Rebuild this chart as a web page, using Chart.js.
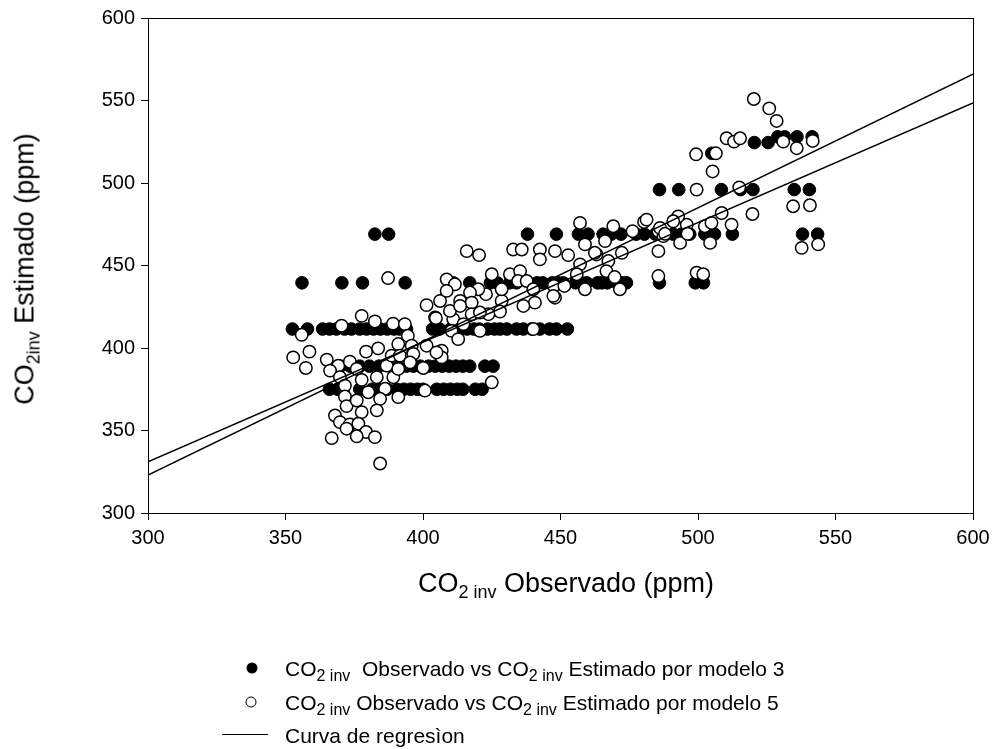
<!DOCTYPE html>
<html>
<head>
<meta charset="utf-8">
<script src="https://cdn.jsdelivr.net/npm/chart.js@4.4.1/dist/chart.umd.min.js"></script>
<style>
  body { margin: 0; background: #fff; }
  #wrap { position: relative; width: 996px; height: 749px; font-family: Arial, "Liberation Sans", sans-serif; color: #000; }
  #grafico { position: absolute; left: 0; top: 0; }
  .tit { position: absolute; font-size: 27px; white-space: nowrap; line-height: 1; }
  .tit sub { font-size: 18px; vertical-align: -6px; line-height: 0; }
  #titX { left: 566px; top: 570px; transform: translateX(-50%); }
  #titY { left: 25px; top: 269px; transform: translate(-50%, -50%) rotate(-90deg); }
  .ley { position: absolute; left: 285px; font-size: 21px; white-space: nowrap; line-height: 1; transform: translateY(-50%); }
  .ley sub { font-size: 16px; vertical-align: -5px; line-height: 0; }
  .marca { position: absolute; width: 11px; height: 11px; border-radius: 50%; box-sizing: border-box; transform: translate(-50%, -50%); }
  .linea { position: absolute; left: 222px; width: 46px; height: 0; border-top: 1.5px solid #000; }
</style>
</head>
<body>
<div id="wrap">
  <canvas id="grafico" width="996" height="749"></canvas>
  <div class="tit" id="titX">CO<sub>2 inv</sub> Observado (ppm)</div>
  <div class="tit" id="titY">CO<sub>2inv</sub> Estimado (ppm)</div>

  <div class="marca" style="left:252px;top:668px;background:#000;"></div>
  <div class="ley" style="top:668px;">CO<sub>2 inv</sub>&nbsp; Observado vs CO<sub>2 inv</sub> Estimado por modelo 3</div>
  <div class="marca" style="left:251px;top:702px;background:#fff;border:1.5px solid #000;"></div>
  <div class="ley" style="top:702px;">CO<sub>2 inv</sub> Observado vs CO<sub>2 inv</sub> Estimado por modelo 5</div>
  <div class="linea" style="top:734px;"></div>
  <div class="ley" style="top:735px;">Curva de regresìon</div>
</div>

<script>
// Modelo 3: valores observados (x) y estimados (y), por niveles
const obs3 = [
  366, 369, 371, 377, 381.5, 384, 387, 390.5, 393, 395.5, 398, 400, 405, 407.5, 410, 412.5, 414.5, 419, 421.5,
  370, 373.5, 377, 380.5, 384, 388, 391.5, 394, 396.5, 399, 402, 404.5, 407, 409.5, 412, 414.5, 417, 422.5, 425.5,
  352.5, 358, 363.5, 366, 368.5, 371.5, 374, 377, 379.5, 382, 384.5, 387, 389.5, 391.5, 394, 403.5, 406, 410,
  413.5, 416, 418.5, 420.5, 423.5, 426, 428, 430.5, 434, 436.5, 439.5, 442.5, 446, 448.5, 452.5,
  356, 370.5, 378, 393.5, 411, 417, 424.5, 427, 431.5, 434, 441.5, 443.5, 447, 449, 451, 455.5, 457.5, 459.5,
  463.5, 465, 467, 470.5, 472.5, 474, 486, 499, 502,
  382.5, 387.5, 438, 448.5, 456.5, 460, 465.5, 468.5, 472, 477.5, 480.5, 484.5, 491, 494, 497, 502.5, 506, 512.5, 538, 543.5,
  486, 493, 508.5, 515.5, 520, 535, 540.5,
  505,
  520.5, 525.5,
  529, 531.5, 536, 541.5
];
const est3 = [
  375, 375, 375, 375, 375, 375, 375, 375, 375, 375, 375, 375, 375, 375, 375, 375, 375, 375, 375,
  389, 389, 389, 389, 389, 389, 389, 389, 389, 389, 389, 389, 389, 389, 389, 389, 389, 389, 389,
  411.5, 411.5, 411.5, 411.5, 411.5, 411.5, 411.5, 411.5, 411.5, 411.5, 411.5, 411.5, 411.5, 411.5, 411.5, 411.5, 411.5, 411.5,
  411.5, 411.5, 411.5, 411.5, 411.5, 411.5, 411.5, 411.5, 411.5, 411.5, 411.5, 411.5, 411.5, 411.5, 411.5,
  439.5, 439.5, 439.5, 439.5, 439.5, 439.5, 439.5, 439.5, 439.5, 439.5, 439.5, 439.5, 439.5, 439.5, 439.5, 439.5, 439.5, 439.5,
  439.5, 439.5, 439.5, 439.5, 439.5, 439.5, 439.5, 439.5, 439.5,
  469, 469, 469, 469, 469, 469, 469, 469, 469, 469, 469, 469, 469, 469, 469, 469, 469, 469, 469, 469,
  496, 496, 496, 496, 496, 496, 496,
  518,
  524.5, 524.5,
  528, 528, 528, 528
];

// Modelo 5: valores observados (x) y estimados (y)
const obs5 = [
  377.7, 382.5, 389.1, 393.4, 370.4, 355.9, 394.5, 352.8, 358.7, 357.4, 365.0, 369.2, 373.4, 379.3, 383.7, 366.2,
  369.8, 375.9, 377.7, 383.2, 386.8, 388.6, 391.0, 391.6, 395.9, 389.2, 391.0, 371.6, 380.1, 386.2, 371.6, 372.2,
  375.9, 384.4, 391.0, 377.7, 383.2, 368.0, 369.8, 373.4, 376.5, 372.2, 379.3, 375.9, 382.5, 366.8, 384.4, 401.3,
  406.2, 404.4, 411.0, 410.4, 401.3, 406.8, 406.8, 400.1, 400.7, 387.3, 415.9, 420.4, 432.8, 435.9, 442.5, 442.5,
  448.0, 452.8, 458.9, 463.1, 457.1, 455.9, 408.6, 411.6, 425.0, 431.6, 435.3, 434.6, 437.7, 447.6, 451.4, 458.9,
  440.1, 448.0, 440.7, 436.5, 428.6, 428.0, 422.9, 420.1, 417.1, 413.5, 408.6, 409.8, 417.7, 417.7, 423.8, 404.7,
  414.7, 420.7, 412.8, 440.1, 425.0, 457.1, 462.5, 472.3, 467.4, 466.2, 469.2, 476.2, 480.4, 481.3, 485.6, 466.7,
  469.7, 471.6, 428.6, 485.6, 485.6, 495.9, 502.5, 487.4, 493.5, 504.4, 499.5, 501.9, 447.4, 520.3, 525.9, 528.6,
  510.4, 513.1, 515.3, 531.0, 535.9, 541.7, 499.3, 506.5, 505.3, 499.5, 515.0, 534.6, 540.7, 519.8, 508.6, 492.8,
  491.0, 486.2, 488.0, 512.2, 504.9, 496.2, 537.7, 543.7, 420.7, 395.9, 404.9, 413.5, 396.5, 395.3
];
const est5 = [
  419.5, 416.1, 414.8, 414.5, 413.5, 408.0, 407.4, 394.3, 397.8, 387.9, 392.9, 389.3, 391.7, 397.8, 399.8, 386.3,
  382.3, 387.3, 380.7, 382.3, 389.3, 395.4, 402.4, 395.4, 395.4, 382.3, 387.3, 377.2, 373.2, 375.3, 370.6, 364.8,
  368.2, 369.2, 370.2, 361.1, 362.2, 359.1, 355.1, 353.7, 354.1, 351.1, 349.1, 346.5, 346.0, 345.4, 330.0, 426.0,
  428.5, 418.5, 417.5, 410.4, 401.4, 398.4, 394.3, 387.9, 374.2, 442.4, 458.7, 456.3, 459.7, 459.7, 459.7, 453.7,
  458.7, 456.3, 462.8, 456.7, 450.7, 444.7, 441.6, 438.6, 444.7, 444.7, 446.6, 440.6, 440.6, 437.6, 437.6, 435.6,
  435.6, 430.5, 427.5, 425.5, 428.5, 422.1, 432.6, 435.6, 433.6, 428.5, 434.6, 422.5, 427.5, 420.5, 420.5, 418.1,
  414.5, 410.4, 405.4, 411.5, 379.2, 475.8, 457.7, 457.7, 452.7, 464.8, 473.8, 470.8, 476.4, 477.8, 470.8, 446.6,
  443.0, 435.6, 435.6, 458.7, 443.6, 474.8, 473.8, 467.8, 463.7, 463.7, 445.6, 444.7, 431.6, 550.9, 545.2, 537.6,
  527.1, 525.1, 527.1, 525.1, 521.1, 525.5, 517.4, 518.0, 507.0, 496.0, 497.3, 485.9, 486.5, 481.2, 481.8, 479.8,
  476.8, 472.8, 469.2, 474.8, 475.8, 469.2, 460.7, 462.8, 421.5, 401.4, 397.3, 425.5, 396.4, 391.3
];

// Curvas de regresion (extremos en x = 300 y x = 600)
const regX = [300, 600];
const regY3 = [323, 566];
const regY5 = [331, 548.5];

const ejeMin = 300, ejeMax = 600, paso = 50;

const puntos = (xs, ys) => xs.map((x, i) => ({ x: x, y: ys[i] }));

// Marco completo alrededor del area del grafico
const marco = {
  id: 'marco',
  afterDraw(chart) {
    const a = chart.chartArea;
    const ctx = chart.ctx;
    ctx.save();
    ctx.strokeStyle = '#000';
    ctx.lineWidth = 1;
    ctx.strokeRect(a.left + 0.5, a.top + 0.5, a.right - a.left, a.bottom - a.top);
    ctx.restore();
  }
};

const fuenteTicks = { family: 'Arial, "Liberation Sans", sans-serif', size: 20 };

new Chart(document.getElementById('grafico').getContext('2d'), {
  type: 'scatter',
  data: {
    datasets: [
      {
        label: 'Curva de regresion 3',
        data: puntos(regX, regY3),
        showLine: true,
        borderColor: '#000',
        borderWidth: 1.5,
        pointRadius: 0,
        order: 0
      },
      {
        label: 'Curva de regresion 5',
        data: puntos(regX, regY5),
        showLine: true,
        borderColor: '#000',
        borderWidth: 1.5,
        pointRadius: 0,
        order: 0
      },
      {
        label: 'Modelo 5',
        data: puntos(obs5, est5),
        backgroundColor: '#fff',
        borderColor: '#000',
        borderWidth: 1.5,
        pointRadius: 6.2,
        order: 1
      },
      {
        label: 'Modelo 3',
        data: puntos(obs3, est3),
        backgroundColor: '#000',
        borderColor: '#000',
        borderWidth: 1,
        pointRadius: 6.3,
        order: 2
      }
    ]
  },
  options: {
    responsive: false,
    animation: false,
    devicePixelRatio: 1,
    layout: { padding: { left: 0, right: 23, top: 16, bottom: 196 } },
    plugins: { legend: { display: false }, tooltip: { enabled: false } },
    scales: {
      x: {
        type: 'linear',
        min: ejeMin,
        max: ejeMax,
        ticks: { stepSize: paso, color: '#000', font: fuenteTicks, padding: 6, maxRotation: 0 },
        grid: { drawOnChartArea: false, drawTicks: true, tickLength: 7, tickColor: '#000', tickWidth: 1 },
        border: { display: true, color: '#000', width: 1 },
        afterFit: s => { s.height = 40; }
      },
      y: {
        type: 'linear',
        min: ejeMin,
        max: ejeMax,
        ticks: { stepSize: paso, color: '#000', font: fuenteTicks, padding: 6 },
        grid: { drawOnChartArea: false, drawTicks: true, tickLength: 7, tickColor: '#000', tickWidth: 1 },
        border: { display: true, color: '#000', width: 1 },
        afterFit: s => { s.width = 148; }
      }
    }
  },
  plugins: [marco]
});
</script>
</body>
</html>
